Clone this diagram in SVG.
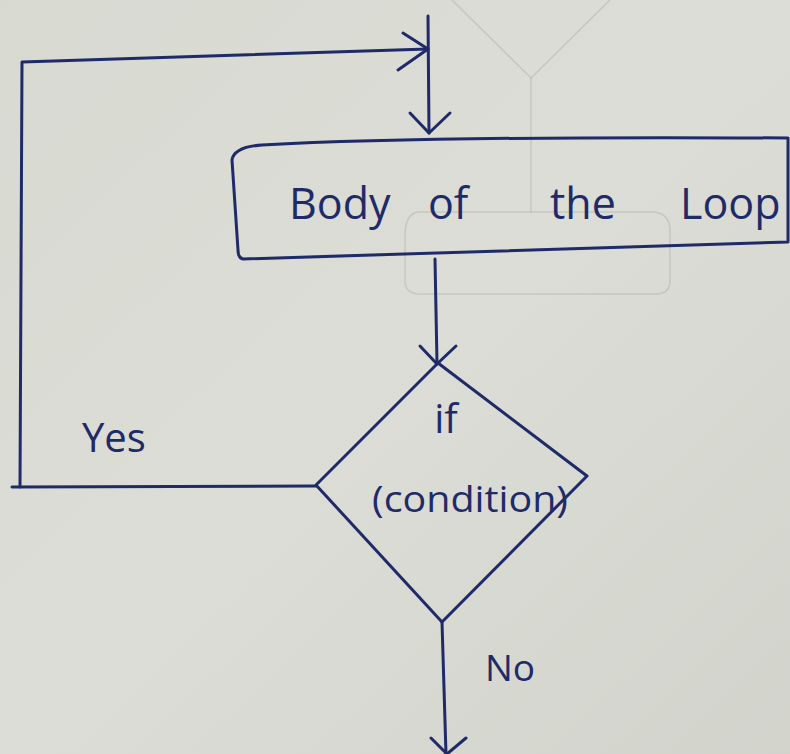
<svg xmlns="http://www.w3.org/2000/svg" width="790" height="754" viewBox="0 0 790 754">
  <style>
    .ink { fill: none; stroke: #1f2a68; stroke-width: 3; stroke-linecap: round; stroke-linejoin: round; }
    .ghost { fill: none; stroke: #8e908c; stroke-width: 1.5; stroke-opacity: 0.28; stroke-linecap: round; }
    .label { fill: #1f2a68; font-family: "Open Sans", "DejaVu Sans", sans-serif; }
  </style>
  <defs>
    <linearGradient id="paper" x1="0" y1="0" x2="1" y2="1">
      <stop offset="0" stop-color="#d8d9d1"/>
      <stop offset="0.5" stop-color="#dcddd6"/>
      <stop offset="1" stop-color="#d2d3cb"/>
    </linearGradient>
  </defs>

  <!-- sheet of paper -->
  <rect width="790" height="754" fill="url(#paper)"/>

  <!-- faint pencil marks showing through from the other side of the sheet -->
  <g id="show-through">
    <path class="ghost" d="M452 0 L531 78 L610 0"/>
    <path class="ghost" d="M531 78 L531 212"/>
    <path class="ghost" d="M418 212 Q405 214 405 236 L405 282 Q406 294 420 294 L656 294 Q670 294 670 280 L670 228 Q668 212 652 212 Z"/>
  </g>

  <!-- process box -->
  <g id="body-of-loop">
    <path class="ink" d="M232 160 Q234 147 262 145 Q430 136 788 138 L788 242 L243 259 Q238 258 238 250 Z"/>
    <text class="label" font-size="43" y="219"><tspan x="289">Body</tspan><tspan x="428">of</tspan><tspan x="550">the</tspan><tspan x="680">Loop</tspan></text>
  </g>

  <!-- decision diamond -->
  <g id="condition">
    <path class="ink" d="M438 363 L587 476 L442 622 L316 485 Z"/>
    <text class="label" font-size="40" x="446" y="433" text-anchor="middle">if</text>
    <text class="label" font-size="37" x="470" y="512" text-anchor="middle" textLength="196" lengthAdjust="spacingAndGlyphs">(condition)</text>
  </g>

  <!-- connectors -->
  <g id="connectors">
    <!-- entry arrow into the loop body -->
    <path class="ink" d="M428 16 L429 133"/>
    <path class="ink" d="M410 113 L429 133 L450 113"/>
    <!-- body to decision -->
    <path class="ink" d="M435 259 L437 363"/>
    <path class="ink" d="M420 346 L437 364 L456 346"/>
    <!-- Yes branch loops back to the top -->
    <path class="ink" d="M316 486 L12 487"/>
    <path class="ink" d="M20 487 L22 62 L428 49"/>
    <path class="ink" d="M398 70 L428 49 L403 33"/>
    <!-- No branch exits downward -->
    <path class="ink" d="M442 622 L446 754"/>
    <path class="ink" d="M431 738 L447 754 L466 738"/>
    <text class="label" font-size="40" x="82" y="452">Yes</text>
    <text class="label" font-size="37" x="485" y="681">No</text>
  </g>
</svg>
